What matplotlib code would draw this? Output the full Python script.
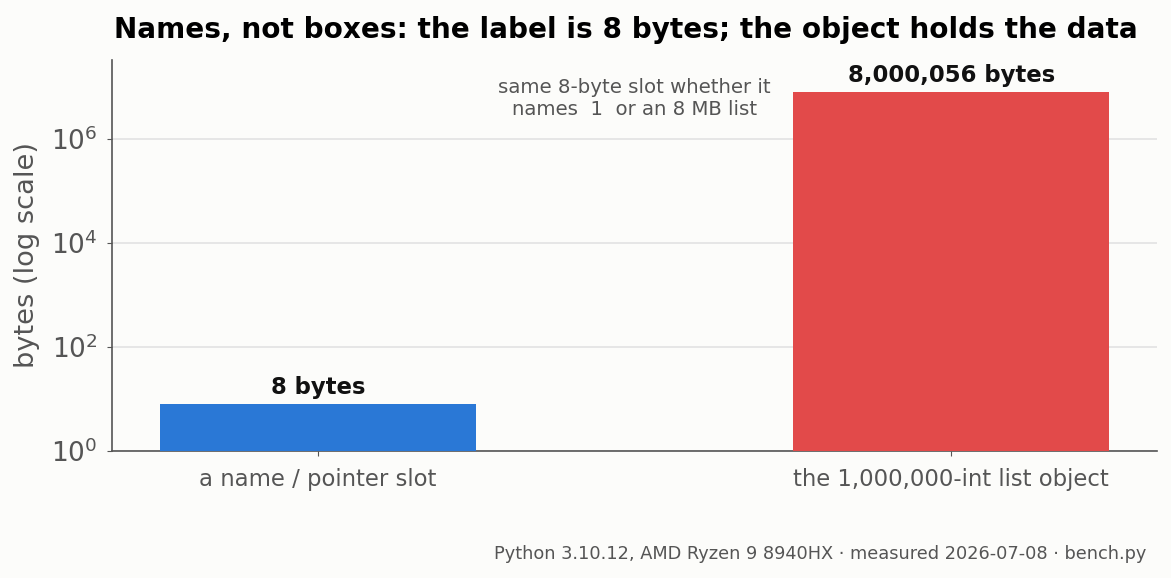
import matplotlib.pyplot as plt
import matplotlib.ticker as mticker

# data
labels = ['a name / pointer slot', 'the 1,000,000-int list object']
sizes = [8, 8000056]
bar_text = ['8 bytes', '8,000,056 bytes']
colors = ['#2a78d6', '#e24a4a']

bg = '#fcfcfa'
fig = plt.figure(figsize=(11.71, 5.78), dpi=100, facecolor=bg)
ax = fig.add_axes([112 / 1171, 1 - 451 / 578, (1157 - 112) / 1171, (451 - 60) / 578])
ax.set_facecolor(bg)

x = range(len(labels))
ax.bar(x, sizes, width=0.5, color=colors, zorder=3)
ax.set_yscale('log')
ax.set_ylim(1, 3.3e7)
ax.set_xlim(-0.325, 1.325)

ax.yaxis.set_major_locator(mticker.FixedLocator([1, 1e2, 1e4, 1e6]))
ax.yaxis.set_minor_locator(mticker.NullLocator())
ax.grid(axis='y', color='#e2e2e2', linewidth=1.2, zorder=0)

ax.set_xticks(list(x))
ax.set_xticklabels(labels, fontsize=16.4, color='#555555')
ax.tick_params(axis='y', labelsize=19, labelcolor='#555555', color='#555555', pad=7)
ax.tick_params(axis='x', color='#555555', pad=9)
ax.set_ylabel('bytes (log scale)', fontsize=19.6, color='#555555', labelpad=8)

for s in ['top', 'right']:
    ax.spines[s].set_visible(False)
for s in ['left', 'bottom']:
    ax.spines[s].set_color('#555555')
    ax.spines[s].set_linewidth(1.2)

for xi, v, t in zip(x, sizes, bar_text):
    ax.annotate(t, (xi, v), xytext=(0, 3.5), textcoords='offset points',
                ha='center', va='bottom', fontsize=16.4, fontweight='bold', color='#111111')

ax.text(0.5, 0.955, 'same 8-byte slot whether it\nnames  1  or an 8 MB list',
        transform=ax.get_xaxis_transform(), ha='center', va='top',
        fontsize=14.2, color='#555555', linespacing=1.25)

ax.set_title('Names, not boxes: the label is 8 bytes; the object holds the data',
             fontsize=20.1, fontweight='bold', pad=16, x=0.492)

fig.text(1146 / 1171, 1 - 554 / 578,
         'Python 3.10.12, AMD Ryzen 9 8940HX · measured 2026-07-08 · bench.py',
         ha='right', va='center', fontsize=12.8, color='#555555')

fig.savefig('out.png', dpi=100, facecolor=bg)
